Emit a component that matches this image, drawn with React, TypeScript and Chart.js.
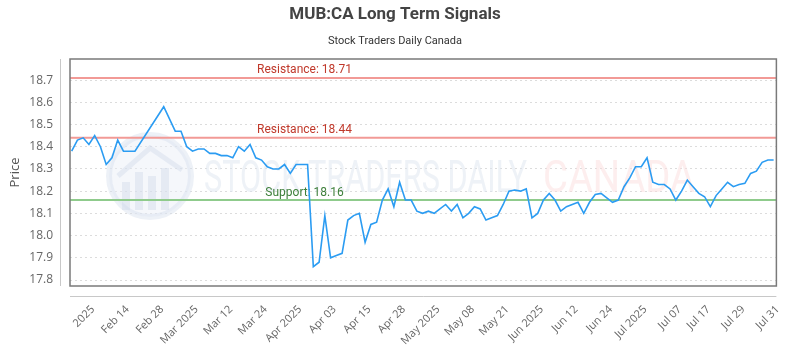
import React, { useEffect, useRef } from "react";
import { Chart, registerables } from "chart.js";

Chart.register(...registerables);

const chartTitle = "MUB:CA Long Term Signals";
const chartSubtitle = "Stock Traders Daily Canada";
const yAxisTitle = "Price";

// one entry per trading session (null = no reading, line spans the gap)
const prices: (number | null)[] = [
  18.38, 18.43, 18.44, 18.41, 18.45, 18.40, 18.32, 18.35, 18.43, 18.38,
  18.38, 18.38, null, null, null, null, 18.58, null, 18.47, 18.47,
  18.40, 18.38, 18.39, 18.39, 18.37, 18.37, 18.36, 18.36, 18.35, 18.40,
  18.38, 18.41, 18.35, 18.34, 18.31, 18.30, 18.30, 18.32, 18.28, 18.32,
  18.32, 18.32, 17.86, 17.88, 18.09, 17.90, 17.91, 17.92, 18.07, 18.09,
  18.10, 17.97, 18.05, 18.06, 18.16, 18.21, 18.13, 18.24, 18.16, 18.16,
  18.11, 18.10, 18.11, 18.10, 18.12, 18.14, 18.11, 18.14, 18.08, 18.10,
  18.13, 18.12, 18.07, 18.08, 18.09, 18.14, 18.20, 18.205, 18.20, 18.21,
  18.08, 18.10, 18.16, 18.19, 18.16, 18.11, 18.13, 18.14, 18.15, 18.10,
  18.15, 18.185, 18.19, 18.17, 18.15, 18.16, 18.22, 18.26, 18.31, 18.31,
  18.35, 18.24, 18.23, 18.23, 18.21, 18.16, 18.20, 18.25, 18.22, 18.19,
  18.175, 18.13, 18.18, 18.21, 18.24, 18.22, 18.23, 18.235, 18.28, 18.29,
  18.33, 18.34, 18.34,
];

const tickIndices = [3, 9, 15, 21, 27, 33, 39, 45, 51, 57, 63, 69, 75, 81, 87, 93, 99, 105, 110, 116, 122];
const tickLabels = [
  "2025", "Feb 14", "Feb 28", "Mar 2025", "Mar 12", "Mar 24", "Apr 2025", "Apr 03", "Apr 15", "Apr 28",
  "May 2025", "May 08", "May 21", "Jun 2025", "Jun 12", "Jun 24", "Jul 2025", "Jul 07", "Jul 17", "Jul 29", "Jul 31",
];
const priceTicks = [17.8, 17.9, 18.0, 18.1, 18.2, 18.3, 18.4, 18.5, 18.6, 18.7];

const levelNames = ["Resistance", "Resistance", "Support"];
const levelValues = [18.71, 18.44, 18.16];

const levelLineColors = ["#f29a96", "#f29a96", "#8fcb8c"];
const levelTextColors = ["#c0392b", "#c0392b", "#3d7f3a"];

const decorPlugin = {
  id: "decor",
  beforeDatasetsDraw(chart: any) {
    const { ctx, chartArea, scales } = chart;
    const { left, right } = chartArea;
    ctx.save();
    // watermark logo
    ctx.beginPath();
    ctx.arc(150, 176, 41, 0, Math.PI * 2);
    ctx.fillStyle = "rgba(232,238,247,0.45)";
    ctx.fill();
    ctx.lineWidth = 6;
    ctx.strokeStyle = "rgba(214,224,238,0.45)";
    ctx.stroke();
    ctx.fillStyle = "rgba(205,216,232,0.4)";
    ctx.fillRect(122, 182, 8, 28);
    ctx.fillRect(135, 172, 8, 38);
    ctx.fillRect(148, 176, 8, 34);
    ctx.fillRect(161, 168, 8, 42);
    ctx.beginPath();
    ctx.moveTo(118, 176);
    ctx.lineTo(150, 148);
    ctx.lineTo(182, 170);
    ctx.lineWidth = 5;
    ctx.strokeStyle = "rgba(205,216,232,0.4)";
    ctx.stroke();
    // watermark text
    ctx.textBaseline = "alphabetic";
    ctx.textAlign = "left";
    ctx.font = "44px Roboto";
    const w1 = ctx.measureText("STOCK TRADERS DAILY").width;
    ctx.save();
    ctx.translate(204, 192);
    ctx.scale(323 / w1, 1);
    ctx.fillStyle = "rgba(222,229,240,0.5)";
    ctx.fillText("STOCK TRADERS DAILY", 0, 0);
    ctx.restore();
    const w2 = ctx.measureText("CANADA").width;
    ctx.save();
    ctx.translate(543, 192);
    ctx.scale(152 / w2, 1);
    ctx.fillStyle = "rgba(252,222,222,0.5)";
    ctx.fillText("CANADA", 0, 0);
    ctx.restore();

    // support / resistance levels
    const y = scales.y;
    levelValues.forEach((v, i) => {
      const py = y.getPixelForValue(v);
      ctx.beginPath();
      ctx.moveTo(left, py);
      ctx.lineTo(right, py);
      ctx.lineWidth = 2;
      ctx.strokeStyle = levelLineColors[i];
      ctx.stroke();
      ctx.font = "12px Roboto";
      ctx.textAlign = "center";
      ctx.textBaseline = "alphabetic";
      ctx.fillStyle = levelTextColors[i];
      ctx.fillText(`${levelNames[i]}: ${v.toFixed(2)}`, left + (right - left) * 0.332, py - 4.5);
    });
    ctx.restore();
  },
  afterDraw(chart: any) {
    const { ctx, chartArea } = chart;
    const { left, right, top, bottom } = chartArea;
    ctx.save();
    ctx.lineWidth = 1.5;
    ctx.strokeStyle = "#7a7a7a";
    ctx.strokeRect(left, top, right - left, bottom - top);
    ctx.lineWidth = 1;
    ctx.strokeStyle = "#c8c8c8";
    ctx.beginPath();
    ctx.moveTo(left - 9.5, top);
    ctx.lineTo(left - 9.5, bottom);
    ctx.moveTo(left, bottom + 10.5);
    ctx.lineTo(right, bottom + 10.5);
    ctx.stroke();
    ctx.restore();
  },
};

export default function App() {
  const ref = useRef<HTMLCanvasElement>(null);
  useEffect(() => {
    const chart = new Chart(ref.current as HTMLCanvasElement, {
      type: "line",
      data: {
        datasets: [
          {
            data: prices.map((p, i) => ({ x: i, y: p })) as any,
            borderColor: "#2b9cf2",
            borderWidth: 1.6,
            pointRadius: 0,
            spanGaps: true,
            tension: 0,
            fill: false,
          },
        ],
      },
      options: {
        animation: false,
        responsive: true,
        maintainAspectRatio: false,
        layout: { padding: { left: 0, right: 10, top: 0, bottom: 0 } },
        plugins: {
          legend: { display: false },
          tooltip: { enabled: false },
          title: {
            display: true,
            text: chartTitle,
            color: "#444",
            font: { family: "Roboto", size: 17, weight: "bold" },
            padding: { top: 5, bottom: 0 },
          },
          subtitle: {
            display: true,
            text: chartSubtitle,
            color: "#333",
            font: { family: "Roboto", size: 11 },
            padding: { top: 9, bottom: 11.4 },
          },
        },
        scales: {
          x: {
            type: "linear",
            min: -0.29,
            max: 122.48,
            grid: { display: false, drawTicks: false },
            border: { display: false },
            afterBuildTicks: (scale: any) => {
              scale.ticks = tickIndices.map((v) => ({ value: v }));
            },
            afterFit: (scale: any) => {
              scale.height = 64;
            },
            ticks: {
              autoSkip: false,
              minRotation: 45,
              maxRotation: 45,
              padding: 17,
              labelOffset: 4,
              color: "#666",
              font: { family: "Open Sans", size: 11 },
              callback: (_v: any, i: number) => tickLabels[i],
            },
          },
          y: {
            type: "linear",
            min: 17.773,
            max: 18.795,
            border: { display: false, dash: [2, 3] },
            grid: { color: "#dcdcdc", drawTicks: false },
            afterBuildTicks: (scale: any) => {
              scale.ticks = priceTicks.map((v) => ({ value: v }));
            },
            afterFit: (scale: any) => {
              scale.width = 70;
            },
            title: {
              display: true,
              text: yAxisTitle,
              color: "#555",
              font: { family: "Open Sans", size: 13 },
              padding: { top: 7, bottom: 0 },
            },
            ticks: {
              padding: 17,
              color: "#666",
              font: { family: "Open Sans", size: 12 },
              callback: (v: any) => Number(v).toFixed(1),
            },
          },
        },
      } as any,
      plugins: [decorPlugin],
    });
    return () => chart.destroy();
  }, []);
  return (
    <div style={{ position: "fixed", left: 0, top: 0, width: 800, height: 350 }}>
      <canvas ref={ref} />
    </div>
  );
}
